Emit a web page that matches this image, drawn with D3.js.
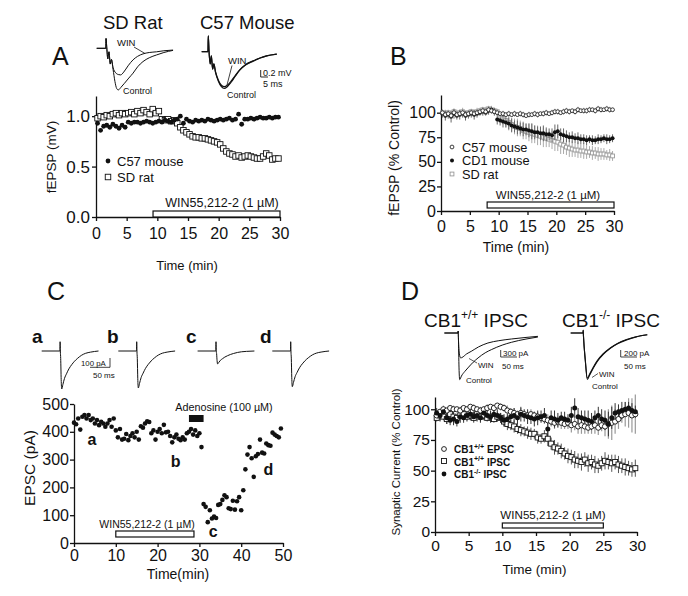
<!DOCTYPE html>
<html><head><meta charset="utf-8">
<script src="https://cdn.jsdelivr.net/npm/d3@7"></script>
<style>body{margin:0;background:#fff}svg{display:block}</style>
</head><body><svg width="688" height="596"></svg>
<script>
// ---------------- DATA ----------------
const time30 = [0.25,0.75,1.25,1.75,2.25,2.75,3.25,3.75,4.25,4.75,5.25,5.75,6.25,6.75,7.25,7.75,8.25,8.75,9.25,9.75,10.25,10.75,11.25,11.75,12.25,12.75,13.25,13.75,14.25,14.75,15.25,15.75,16.25,16.75,17.25,17.75,18.25,18.75,19.25,19.75,20.25,20.75,21.25,21.75,22.25,22.75,23.25,23.75,24.25,24.75,25.25,25.75,26.25,26.75,27.25,27.75,28.25,28.75,29.25,29.75];
const time50 = [0,0.5,1,1.5,2,2.5,3,3.5,4,4.5,5,5.5,6,6.5,7,7.5,8,8.5,9,9.5,10,10.5,11,11.5,12,12.5,13,13.5,14,14.5,15,15.5,16,16.5,17,17.5,18,18.5,19,19.5,20,20.5,21,21.5,22,22.5,23,23.5,24,24.5,25,25.5,26,26.5,27,27.5,28,28.5,29,29.5,30,30.5,31,31.5,32,32.5,33,33.5,34,34.5,35,35.5,36,36.5,37,37.5,38,38.5,39,39.5,40,40.5,41,41.5,42,42.5,43,43.5,44,44.5,45,45.5,46,46.5,47,47.5,48,48.5,49,49.5];

// Panel A (fEPSP, mV)
const aC57 = [0.93,0.86,0.90,0.91,0.89,0.92,0.90,0.88,0.91,0.89, 0.94,0.93,0.94,0.94,0.93,0.94,0.95,0.94,0.93,0.94, 0.95,0.94,0.96,0.95,0.94,0.96,0.97,1.00,0.93,0.97, 0.95,0.94,0.96,0.95,0.96,0.95,0.97,0.96,0.95,0.96, 0.97,0.96,0.97,0.98,0.96,0.97,1.02,0.92,0.97,0.97, 0.98,0.97,0.98,0.99,0.98,0.98,0.99,0.98,0.99,0.99];
const aSD = [0.98,1.00,0.99,1.01,1.00,1.02,1.03,1.01,1.03,1.02, 1.03,1.04,1.02,1.05,1.03,1.06,1.04,1.02,1.07,1.03, 1.05,0.97,0.96,0.97,0.95,0.96,0.93,0.89,0.86,0.84, 0.82,0.80,0.79,0.79,0.78,0.78,0.77,0.76,0.75,0.74, 0.72,0.68,0.65,0.63,0.62,0.60,0.61,0.59,0.60,0.61, 0.60,0.59,0.58,0.58,0.60,0.63,0.61,0.57,0.58,0.58];
const aWin = [9.3, 30];

// Panel B (% control)
const bC57 = [100,98,99,97,100,98,99,100,98,99, 100,99,100,101,102,101,103,102,101,100, 99,99,98,99,98,99,98,99,98,97, 98,98,99,98,99,99,100,99,100,101, 101,100,101,102,101,102,101,103,102,102, 102,103,103,102,104,103,103,104,103,103];
const bCD1 = [99,97,98,96,99,97,98,99,97,98, 99,98,99,100,101,100,102,103,101,93, 92,91,90,89,87,86,85,84,83,83, 82,81,80,80,79,79,78,78,77,80, 81,78,77,76,75,75,74,74,73,73, 72,73,72,72,73,73,74,73,73,74];
const bSD = [100,99,100,98,101,99,100,101,99,100, 101,100,101,102,103,102,104,103,102,101, 96,94,92,90,88,86,85,84,82,81, 80,79,78,77,76,75,74,73,72,71, 70,68,67,65,64,63,62,62,61,61, 60,60,59,59,58,58,58,57,57,56];
const bC57err = [3,2,3,3,2,3,2,3,2,3, 3,2,3,2,3,3,2,3,2,3, 2,3,2,3,2,3,2,3,3,2, 3,2,3,3,2,3,3,2,3,3, 3,2,3,3,3,2,3,3,2,3, 3,3,2,3,3,3,2,3,3,2];
const bCD1err = [4,5,4,6,5,4,5,4,5,4, 4,5,4,3,4,3,4,3,4,5, 5,6,5,6,7,6,7,6,7,6, 7,8,7,6,7,8,7,6,7,8, 7,6,7,6,5,6,5,6,5,5, 5,4,5,4,5,4,4,5,4,4];
const bSDerr = [3,4,3,4,3,4,3,4,3,3, 3,3,4,3,3,4,3,4,3,3, 5,6,7,8,7,8,9,8,9,8, 9,10,9,10,9,10,9,8,9,10, 9,10,9,8,9,8,7,8,7,8, 7,6,7,6,7,6,6,5,6,5];
const bWin = [8, 30];

// Panel C (EPSC, pA)
const cEPSC = [433,427,448,408,454,460,448,460,442,448, 430,442,424,436,430,418,430,442,418,448, 405,380,410,372,375,392,370,385,395,380, 400,372,420,415,430,438,435,395,405,372, 400,410,395,425,398,400,385,362,380,390, 375,370,380,372,395,400,410,390,405,385, 395,345,140,130,75,118,88,95,90,137, 140,155,172,165,125,122,152,120,150,165, 118,190,265,318,345,305,238,312,320,372, 325,322,358,352,350,397,390,385,380,412];
const cWin = [10, 28.7];
const cAdeno = [27.5, 31];
const cMarks = [{s:"a", t:4.3, v:352}, {s:"b", t:24.3, v:272}, {s:"c", t:33.3, v:22}, {s:"d", t:46.5, v:245}];

// Panel D (% control)
const dEPSC = [95,98,100,99,101,100,100,99,101,100, 102,101,100,99,100,101,102,101,103,102, 101,99,98,97,96,97,96,95,96,95, 94,93,92,91,90,89,90,89,88,89, 87,88,86,87,86,85,86,87,85,87, 86,88,89,90,92,95,96,97,95,96];
const dIPSC = [93,95,94,92,96,94,93,95,96,94, 95,93,96,94,95,93,94,92,94,93, 90,88,87,86,84,83,82,81,80,80, 77,76,78,76,72,69,68,66,64,62, 61,59,58,57,59,56,57,55,54,56, 58,57,56,57,55,54,53,52,51,52];
const dKO = [97,95,98,93,91,92,90,94,93,95, 96,94,95,93,97,95,94,96,95,93, 91,92,94,95,93,96,95,94,93,92, 93,94,95,84,93,92,91,93,92,91, 95,101,94,93,92,91,90,93,95,92, 91,88,93,97,98,99,100,101,99,98];
const dEPSCerr = [3,2,3,2,2,3,2,3,2,2, 2,3,2,3,2,3,2,3,2,3, 3,4,3,4,3,4,3,4,4,3, 4,3,4,5,4,5,4,5,4,5, 6,5,6,7,6,5,6,7,6,5, 8,12,14,10,8,6,10,12,14,16];
const dIPSCerr = [3,4,3,4,3,4,3,3,4,3, 3,4,3,4,4,3,4,3,4,4, 4,5,4,5,4,5,4,5,5,4, 5,4,5,6,5,6,5,6,5,6, 6,7,6,7,6,7,6,7,6,6, 7,6,7,6,7,6,7,6,6,7];
const dKOerr = [4,5,4,5,4,5,4,5,4,5, 5,4,5,4,5,4,5,4,5,4, 5,4,5,6,5,6,5,6,5,6, 6,5,6,7,6,7,6,5,6,5, 7,8,7,6,7,8,7,6,7,8, 8,10,9,8,6,7,6,5,6,5];
const dWin = [10, 25];

// Example traces ([ms, mV] or [ms, pA])
const sdCtrl = [[0,0],[6.2,0],[6.4,0.28],[6.9,0.02],[7.6,-0.3],[8.4,-0.1],[9.3,-0.45],[10.1,-0.32],[11.2,-0.6],[12.5,-0.95],[13.7,-1.15],[14.8,-1.19],[16.5,-1.12],[19,-1.0],[22,-0.85],[24.9,-0.71],[28,-0.53],[31.7,-0.38],[36,-0.27],[41,-0.19],[46,-0.12],[52.3,-0.06]];
const sdWin = [[0,0],[6.2,0],[6.4,0.28],[6.9,0.02],[7.6,-0.3],[8.4,-0.1],[9.3,-0.45],[10.1,-0.32],[11.2,-0.55],[13,-0.7],[14.8,-0.75],[16.4,-0.76],[18.5,-0.68],[21.5,-0.5],[24.9,-0.33],[28,-0.23],[31.7,-0.16],[36,-0.12],[41,-0.1],[46,-0.07],[52.3,-0.05]];
const c57Ctrl = [[0,0],[4.3,0],[4.5,0.45],[5,0.02],[5.8,-0.35],[6.6,-0.12],[7.5,-0.5],[8.3,-0.35],[9.5,-0.6],[11.5,-0.85],[13.5,-1.0],[15.5,-1.05],[17.5,-1.0],[20,-0.88],[23,-0.7],[26.2,-0.52],[30,-0.38],[35.3,-0.27],[40,-0.18],[44.5,-0.12],[51.4,-0.07]];
const c57Win = [[0,0],[4.3,0],[4.5,0.45],[5,0.02],[5.8,-0.35],[6.6,-0.12],[7.5,-0.5],[8.3,-0.35],[9.5,-0.58],[11.5,-0.82],[13.5,-0.96],[15.5,-1.0],[17.5,-0.96],[20,-0.85],[23,-0.68],[26.2,-0.51],[30,-0.37],[35.3,-0.26],[40,-0.18],[44.5,-0.12],[51.4,-0.07]];
const epscShape = [[0,0],[45.5,0],[46,1.45],[46.6,0],[47.5,-0.2],[48.7,-0.75],[50,-1],[53,-0.88],[57,-0.72],[62,-0.6],[68,-0.47],[75,-0.36],[82,-0.27],[90,-0.19],[100,-0.11],[110,-0.06],[122,-0.03],[142,0]];
const epscAmp = [475, 462, 162, 446];
const epscLabels = ["a","b","c","d"];
const ipscWtCtrl = [[-40,0],[0,0],[0.6,80],[1.2,-200],[3,-1500],[5,-2000],[10,-1850],[20,-1650],[29,-1500],[45,-1250],[59,-1070],[80,-850],[98,-715],[130,-520],[157,-400],[200,-260],[235,-172]];
const ipscWtWin = [[-40,0],[0,0],[0.6,80],[1.2,-200],[4,-900],[8,-1070],[12,-1050],[25,-900],[39,-787],[60,-600],[88,-429],[120,-330],[157,-257],[200,-190],[235,-143]];
const ipscKoCtrl = [[-37,0],[0,0],[0.6,80],[1.5,-100],[7,-800],[13,-1330],[20,-1200],[30,-1020],[43,-810],[60,-620],[83,-430],[105,-300],[133,-190],[160,-110],[193,-50]];
const ipscKoWin = [[-37,0],[0,0],[0.6,80],[1.5,-100],[7,-780],[13,-1290],[20,-1170],[30,-990],[43,-790],[60,-600],[83,-420],[105,-290],[133,-180],[160,-105],[193,-48]];

// ---------------- HELPERS ----------------
const svg = d3.select("svg");
const FONT = '"Liberation Sans", Arial, Helvetica, sans-serif';
const INK = "#111";

function txt(x, y, s, size, o = {}) {
  const t = svg.append("text").attr("x", x).attr("y", y).attr("font-size", size)
    .attr("font-family", FONT).attr("fill", INK).text(s);
  if (o.anchor) t.attr("text-anchor", o.anchor);
  if (o.weight) t.attr("font-weight", o.weight);
  return t;
}
function vtxt(x, y, s, size) {
  svg.append("text").attr("transform", `translate(${x},${y}) rotate(-90)`)
    .attr("text-anchor", "middle").attr("font-size", size).attr("font-family", FONT)
    .attr("fill", INK).text(s);
}
function supText(x, y, base, sup, rest, size, supSize, o = {}) {
  const t = svg.append("text").attr("x", x).attr("y", y).attr("font-size", size)
    .attr("font-family", FONT).attr("fill", INK);
  if (o.weight) t.attr("font-weight", o.weight);
  t.append("tspan").text(base);
  t.append("tspan").attr("font-size", supSize).attr("dy", -size * 0.42).text(sup);
  t.append("tspan").attr("dy", size * 0.42).text(rest);
}
function axes(xs, ys, xticks, yticks, o) {
  const gx = svg.append("g").attr("transform", `translate(0,${ys(0)})`)
    .call(d3.axisBottom(xs).tickValues(xticks).tickSize(4).tickSizeOuter(0)
      .tickPadding(o.xpad).tickFormat(d3.format("d")));
  const gy = svg.append("g").attr("transform", `translate(${xs(0)},0)`)
    .call(d3.axisLeft(ys).tickValues(yticks).tickSize(4).tickSizeOuter(0)
      .tickPadding(o.ypad).tickFormat(o.yfmt || d3.format("d")));
  gx.attr("font-size", o.xfs); gy.attr("font-size", o.yfs);
  for (const g of [gx, gy]) {
    g.attr("font-family", FONT).attr("color", INK);
    g.selectAll("path,line").attr("stroke-width", 1.3);
  }
}
function errbars(xs, ys, t, v, e, color, w = 1) {
  svg.append("g").selectAll("line").data(v).join("line")
    .attr("x1", (d, i) => xs(t[i])).attr("x2", (d, i) => xs(t[i]))
    .attr("y1", (d, i) => ys(d - e[i])).attr("y2", (d, i) => ys(d + e[i]))
    .attr("stroke", color).attr("stroke-width", w);
}
function dots(xs, ys, t, v, r, fill = INK) {
  svg.append("g").selectAll("circle").data(v).join("circle")
    .attr("cx", (d, i) => xs(t[i])).attr("cy", d => ys(d)).attr("r", r).attr("fill", fill);
}
function rings(xs, ys, t, v, r, stroke = INK, sw = 1) {
  svg.append("g").selectAll("circle").data(v).join("circle")
    .attr("cx", (d, i) => xs(t[i])).attr("cy", d => ys(d)).attr("r", r)
    .attr("fill", "#fff").attr("stroke", stroke).attr("stroke-width", sw);
}
function squares(xs, ys, t, v, s, stroke = INK, sw = 1) {
  svg.append("g").selectAll("rect").data(v).join("rect")
    .attr("x", (d, i) => xs(t[i]) - s / 2).attr("y", d => ys(d) - s / 2)
    .attr("width", s).attr("height", s)
    .attr("fill", "#fff").attr("stroke", stroke).attr("stroke-width", sw);
}
function drugBar(xs, ys, range, h, fill, gap = 0) {
  svg.append("rect").attr("x", xs(range[0])).attr("y", ys(0) - h - gap)
    .attr("width", xs(range[1]) - xs(range[0])).attr("height", h)
    .attr("fill", fill).attr("stroke", INK).attr("stroke-width", 1.2);
}
function trace(pts, x0, y0, kx, ky, sw = 1.1, scaleAmp = 1) {
  const tx = d3.scaleLinear().domain([0, 1]).range([x0, x0 + kx]);
  const ty = d3.scaleLinear().domain([0, 1]).range([y0, y0 - ky]);
  const line = d3.line().x(d => tx(d[0])).y(d => ty(d[1] * (d[1] < 0 ? scaleAmp : 1) * (d[1] > 0 && scaleAmp !== 1 ? 1 : 1))).curve(d3.curveMonotoneX);
  svg.append("path").attr("d", line(pts)).attr("fill", "none").attr("stroke", INK).attr("stroke-width", sw);
}
function seg(x1, y1, x2, y2, sw = 1) {
  svg.append("line").attr("x1", x1).attr("y1", y1).attr("x2", x2).attr("y2", y2)
    .attr("stroke", INK).attr("stroke-width", sw);
}

// ---------------- PANEL LETTERS ----------------
txt(52, 65, "A", 25); txt(390, 65, "B", 25); txt(47, 300, "C", 25); txt(401, 300, "D", 25);

// ---------------- PANEL A ----------------
{
  const xs = d3.scaleLinear().domain([0, 30]).range([96, 280]);
  const ys = d3.scaleLinear().domain([0, 1.2]).range([217, 96]);
  axes(xs, ys, [0, 5, 10, 15, 20, 25, 30], [0, 0.5, 1.0], {xpad: 7, ypad: 2, xfs: 16, yfs: 17, yfmt: d3.format(".1f")});
  squares(xs, ys, time30, aSD, 5.5, INK, 0.9);
  dots(xs, ys, time30, aC57, 2.4);
  drugBar(xs, ys, aWin, 6, "#fff");
  txt(222, 207, "WIN55,212-2 (1 µM)", 12.5, {anchor: "middle"});
  svg.append("circle").attr("cx", 108).attr("cy", 161).attr("r", 2.4).attr("fill", INK);
  svg.append("rect").attr("x", 105.25).attr("y", 174.25).attr("width", 5.5).attr("height", 5.5).attr("fill", "#fff").attr("stroke", INK).attr("stroke-width", 0.9);
  txt(117, 166, "C57 mouse", 13); txt(117, 182, "SD rat", 13);
  txt(187, 270, "Time (min)", 13, {anchor: "middle"});
  vtxt(56, 157, "fEPSP (mV)", 13.5);
  // insets
  txt(103, 29, "SD Rat", 18.5); txt(200, 29, "C57 Mouse", 18.5);
  trace(sdCtrl, 96.7, 48.3, 1.46, 35, 1);
  trace(sdWin, 96.7, 48.3, 1.46, 35, 1);
  txt(117, 46, "WIN", 9.5); seg(134, 47, 145, 53.5, 0.8);
  txt(123, 94, "Control", 9);
  trace(c57Ctrl, 201.7, 51.7, 1.46, 35, 1.2);
  trace(c57Win, 201.7, 51.7, 1.46, 35, 1.2);
  txt(228, 64, "WIN", 9.5); seg(232, 65.5, 227, 85, 0.8);
  txt(227, 98, "Control", 9);
  seg(260.7, 70, 260.7, 77, 0.9); seg(260.7, 77, 268, 77, 0.9);
  txt(263, 75.5, "0.2 mV", 9); txt(263, 87, "5 ms", 9);
}

// ---------------- PANEL B ----------------
{
  const xs = d3.scaleLinear().domain([0, 30]).range([441, 614]);
  const ys = d3.scaleLinear().domain([0, 118]).range([211, 95]);
  axes(xs, ys, [0, 5, 10, 15, 20, 25, 30], [0, 25, 50, 75, 100], {xpad: 5.5, ypad: 1, xfs: 16, yfs: 16});
  errbars(xs, ys, time30, bSD, bSDerr, "#aaa", 1);
  squares(xs, ys, time30, bSD, 3.8, "#999", 0.9);
  errbars(xs, ys, time30, bCD1, bCD1err, "#666", 1);
  dots(xs, ys, time30, bCD1, 2);
  errbars(xs, ys, time30, bC57, bC57err, "#888", 0.8);
  rings(xs, ys, time30, bC57, 1.9, INK, 0.8);
  drugBar(xs, ys, bWin, 6, "#fff", 3);
  txt(548, 199, "WIN55,212-2 (1 µM)", 11.5, {anchor: "middle"});
  svg.append("circle").attr("cx", 452).attr("cy", 147).attr("r", 1.9).attr("fill", "#fff").attr("stroke", INK).attr("stroke-width", 0.8);
  svg.append("circle").attr("cx", 452).attr("cy", 160.5).attr("r", 2).attr("fill", INK);
  svg.append("rect").attr("x", 450.1).attr("y", 172.1).attr("width", 3.8).attr("height", 3.8).attr("fill", "#fff").attr("stroke", "#999").attr("stroke-width", 0.9);
  txt(462, 151.5, "C57 mouse", 12.8); txt(462, 165, "CD1 mouse", 12.8); txt(462, 178.5, "SD rat", 12.8);
  txt(516, 252, "Time (min)", 14, {anchor: "middle"});
  vtxt(399, 158, "fEPSP (% Control)", 14);
}

// ---------------- PANEL C ----------------
{
  const xs = d3.scaleLinear().domain([0, 50]).range([74, 283]);
  const ys = d3.scaleLinear().domain([0, 500]).range([543, 404]);
  axes(xs, ys, [0, 10, 20, 30, 40, 50], [0, 100, 200, 300, 400, 500], {xpad: 3, ypad: 1, xfs: 16, yfs: 16});
  dots(xs, ys, time50, cEPSC, 2.3);
  drugBar(xs, ys, cWin, 6, "#fff", 6);
  txt(147, 528, "WIN55,212-2 (1 µM)", 10.5, {anchor: "middle"});
  svg.append("rect").attr("x", xs(cAdeno[0])).attr("y", 415)
    .attr("width", xs(cAdeno[1]) - xs(cAdeno[0])).attr("height", 7).attr("fill", INK);
  txt(224, 411, "Adenosine (100 µM)", 10.8, {anchor: "middle"});
  cMarks.forEach(m => txt(xs(m.t), ys(m.v), m.s, 16, {anchor: "middle", weight: "bold"}));
  txt(178, 579, "Time(min)", 14, {anchor: "middle"});
  vtxt(35, 468, "EPSC (pA)", 15.5);
  // traces
  const traceX0 = [41.7, 118.3, 197.6, 272.3];
  const labelX = [32, 107, 186, 260];
  epscAmp.forEach((amp, k) => {
    const pts = epscShape.map(p => [p[0], p[1] > 0 ? p[1] * 80 : p[1] * amp]);
    trace(pts, traceX0[k], 351, 0.4, 0.08, 1);
    txt(labelX[k], 343, epscLabels[k], 19, {weight: "bold"});
  });
  seg(110, 358, 110, 367.3, 0.8); seg(90, 367.3, 110, 367.3, 0.8);
  txt(81, 365.5, "100 pA", 7.8); txt(93, 378, "50 ms", 8);
}

// ---------------- PANEL D ----------------
{
  const xs = d3.scaleLinear().domain([0, 30]).range([435, 637]);
  const ys = d3.scaleLinear().domain([0, 110]).range([532, 397]);
  axes(xs, ys, [0, 5, 10, 15, 20, 25, 30], [0, 25, 50, 75, 100], {xpad: 4, ypad: 1, xfs: 15.5, yfs: 15.5});
  errbars(xs, ys, time30, dEPSC, dEPSCerr, "#999", 1.2);
  errbars(xs, ys, time30, dIPSC, dIPSCerr, "#555", 1);
  errbars(xs, ys, time30, dKO, dKOerr, "#333", 1);
  squares(xs, ys, time30, dIPSC, 5, INK, 0.9);
  rings(xs, ys, time30, dEPSC, 2.6, INK, 0.9);
  dots(xs, ys, time30, dKO, 2.5);
  drugBar(xs, ys, dWin, 5, "#fff", 4);
  txt(553, 519, "WIN55,212-2 (1 µM)", 11.6, {anchor: "middle"});
  svg.append("circle").attr("cx", 444).attr("cy", 449).attr("r", 2.4).attr("fill", "#fff").attr("stroke", INK).attr("stroke-width", 0.9);
  svg.append("rect").attr("x", 441.5).attr("y", 458.5).attr("width", 5).attr("height", 5).attr("fill", "#fff").attr("stroke", INK).attr("stroke-width", 0.9);
  svg.append("circle").attr("cx", 444).attr("cy", 474).attr("r", 2.4).attr("fill", INK);
  supText(454, 453, "CB1", "+/+", " EPSC", 10, 7, {weight: "bold"});
  supText(454, 465.5, "CB1", "+/+", " IPSC", 10, 7, {weight: "bold"});
  supText(454, 478, "CB1", "-/-", " IPSC", 10, 7, {weight: "bold"});
  txt(534.5, 574, "Time (min)", 13.5, {anchor: "middle"});
  vtxt(400, 462, "Synaptic Current (% Control)", 11.5);
  // insets
  supText(424, 327, "CB1", "+/+", " IPSC", 19, 12);
  supText(562, 327, "CB1", "-/-", " IPSC", 19, 12);
  trace(ipscWtCtrl, 458, 333, 0.34, 0.0233, 1);
  trace(ipscWtWin, 458, 333, 0.34, 0.0233, 1);
  txt(478, 368, "WIN", 8); seg(477, 363, 469, 358.5, 0.7);
  txt(466, 383, "Control", 8);
  seg(500.7, 350, 500.7, 357, 0.8); seg(500.7, 357, 517, 357, 0.8);
  txt(503, 355.5, "300 pA", 8); txt(502, 369, "50 ms", 8);
  trace(ipscKoCtrl, 583, 333, 0.333, 0.035, 1.1);
  trace(ipscKoWin, 583, 333, 0.333, 0.035, 1.1);
  txt(599, 377, "WIN", 8); seg(598, 373.5, 592, 377.5, 0.7);
  txt(592, 389, "Control", 8);
  seg(620.7, 350, 620.7, 357, 0.8); seg(620.7, 357, 637, 357, 0.8);
  txt(624, 355.5, "200 pA", 8); txt(624, 369, "50 ms", 8);
}
</script></body></html>
